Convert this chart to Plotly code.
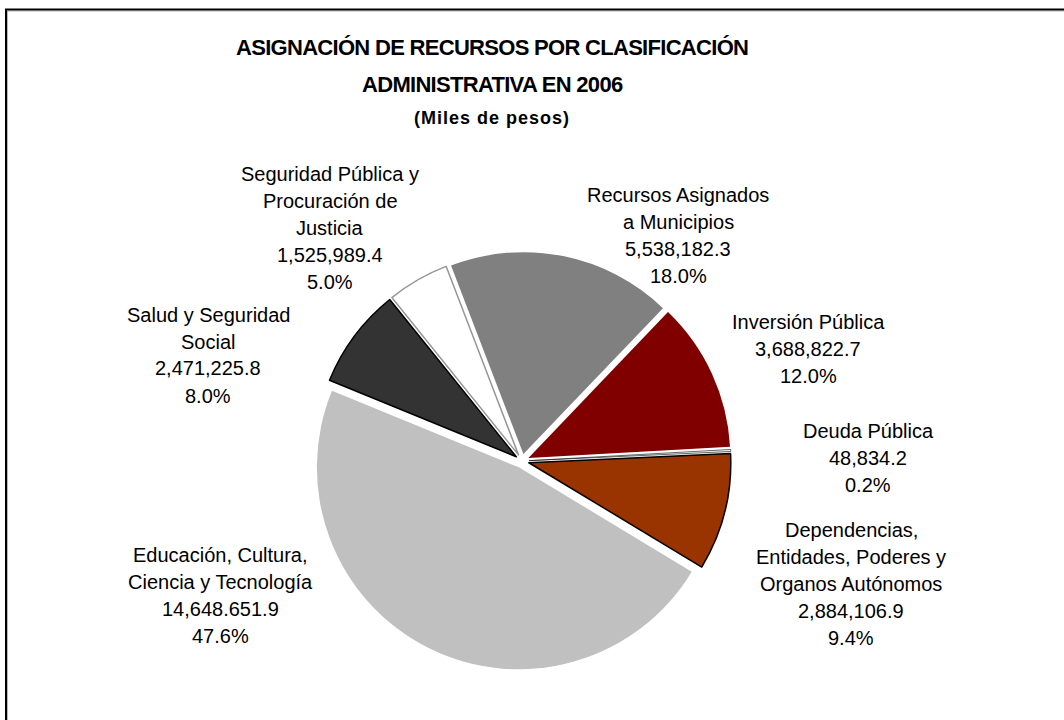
import plotly.graph_objects as go

# ---- data ----
categories = [
    "Recursos Asignados a Municipios",
    "Inversión Pública",
    "Deuda Pública",
    "Dependencias, Entidades, Poderes y Organos Autónomos",
    "Educación, Cultura, Ciencia y Tecnología",
    "Salud y Seguridad Social",
    "Seguridad Pública y Procuración de Justicia",
]
label_lines = [
    "Recursos Asignados<br>a Municipios",
    "Inversión Pública",
    "Deuda Pública",
    "Dependencias,<br>Entidades, Poderes y<br>Organos Autónomos",
    "Educación, Cultura,<br>Ciencia y Tecnología",
    "Salud y Seguridad<br>Social",
    "Seguridad Pública y<br>Procuración de<br>Justicia",
]
values = [5538182.3, 3688822.7, 48834.2, 2884106.9, 14648651.9, 2471225.8, 1525989.4]
value_labels = ["5,538,182.3", "3,688,822.7", "48,834.2", "2,884,106.9",
                "14,648.651.9", "2,471,225.8", "1,525,989.4"]

# ---- styles ----
colors = ["#808080", "#800000", "#FFFFFF", "#993300", "#C0C0C0", "#333333", "#FFFFFF"]
line_colors = ["#808080", "#800000", "#000000", "#000000", "#C0C0C0", "#000000", "#969696"]
line_widths = [0, 0, 0.6, 1.5, 0, 1.5, 1.5]
# label block centres, in page pixels (x, y from top)
label_pos = [(678, 235), (808, 349), (868, 458), (851, 584), (220, 595), (208, 355), (330, 228)]
LINE_STEP = 27

W, H = 1064, 720
px = lambda x: x / W
py = lambda y: 1 - y / H

total = sum(values)

fig = go.Figure(go.Pie(
    labels=categories,
    values=values,
    sort=False,
    direction="clockwise",
    rotation=-21,
    pull=[0.035] * len(values),
    marker=dict(colors=colors, line=dict(color=line_colors, width=line_widths)),
    textinfo="none",
    showlegend=False,
    domain=dict(x=[px(313), px(731)], y=[py(670), py(252)]),
))

font = "Liberation Sans, Arial, sans-serif"
annotations = []
for lab, vtxt, v, (x, y) in zip(label_lines, value_labels, values, label_pos):
    lines = lab.split("<br>") + [vtxt, f"{v / total * 100:.1f}%"]
    n = len(lines)
    for i, ln in enumerate(lines):
        annotations.append(dict(
            x=px(x), y=py(y + (i - (n - 1) / 2) * LINE_STEP), xref="paper", yref="paper",
            text=ln, showarrow=False, xanchor="center", yanchor="middle", align="center",
            font=dict(family=font, size=20, color="#000000"),
        ))

title_lines = ["ASIGNACIÓN DE RECURSOS POR CLASIFICACIÓN", "ADMINISTRATIVA EN 2006"]
for t, y in zip(title_lines, [48, 84]):
    annotations.append(dict(
        x=px(492), y=py(y), xref="paper", yref="paper",
        text=f"<b><span style='letter-spacing:-0.7px'>{t}</span></b>",
        showarrow=False, xanchor="center", yanchor="middle",
        font=dict(family=font, size=22, color="#000000"),
    ))
annotations.append(dict(
    x=px(492), y=py(118), xref="paper", yref="paper",
    text="<b><span style='letter-spacing:1px'>(Miles de pesos)</span></b>",
    showarrow=False, xanchor="center", yanchor="middle",
    font=dict(family=font, size=18, color="#000000"),
))

shapes = [
    dict(type="rect", xref="paper", yref="paper",
         x0=px(7.5), y0=py(11), x1=px(1090), y1=py(750),
         line=dict(color="#BBBBBB", width=1)),
    dict(type="rect", xref="paper", yref="paper",
         x0=px(6), y0=py(9.5), x1=px(1090), y1=py(750),
         line=dict(color="#000000", width=2)),
]

fig.update_layout(
    width=W, height=H,
    margin=dict(l=0, r=0, t=0, b=0),
    paper_bgcolor="#FFFFFF", plot_bgcolor="#FFFFFF",
    annotations=annotations, shapes=shapes,
)

fig.write_html("out.html", config={"displayModeBar": False},
               post_script="document.body.style.margin='0';")
